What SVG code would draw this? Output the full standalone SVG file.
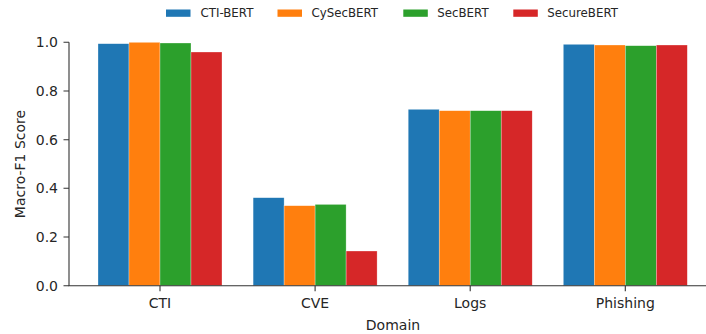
<svg xmlns="http://www.w3.org/2000/svg" width="706" height="334" viewBox="0 0 706 334">
<style>
text{font-family:"DejaVu Sans","Liberation Sans",sans-serif;fill:#262626}
.tick{font-size:14px}
.leg{font-size:11.8px}
.ax{stroke:#333;stroke-width:1.1;fill:none}
.bar{stroke:#fff;stroke-width:0.5;stroke-opacity:0.6}
.b{fill:#1f77b4}.o{fill:#ff7f0e}.g{fill:#2ca02c}.r{fill:#d62728}
</style>
<rect width="706" height="334" fill="#fff"/>
<g id="legend">
<rect class="b" x="166" y="9.5" width="24.5" height="7.3"/><text class="leg" x="200.5" y="17.4">CTI-BERT</text>
<rect class="o" x="277.5" y="9.5" width="24.5" height="7.3"/><text class="leg" x="311.5" y="17.4">CySecBERT</text>
<rect class="g" x="403.3" y="9.5" width="24.5" height="7.3"/><text class="leg" x="437.3" y="17.4">SecBERT</text>
<rect class="r" x="513.3" y="9.5" width="24.5" height="7.3"/><text class="leg" x="547.3" y="17.4">SecureBERT</text>
</g>
<g id="bars">
<g id="CTI">
<rect class="bar b" x="98" y="43.7" width="31" height="242"/>
<rect class="bar o" x="129" y="42.3" width="31" height="243.4"/>
<rect class="bar g" x="160" y="43" width="31" height="242.7"/>
<rect class="bar r" x="191" y="52" width="31" height="233.7"/>
</g>
<g id="CVE">
<rect class="bar b" x="253.1" y="197.7" width="31" height="88"/>
<rect class="bar o" x="284.1" y="205.7" width="31" height="80"/>
<rect class="bar g" x="315.1" y="204.4" width="31" height="81.3"/>
<rect class="bar r" x="346.1" y="251" width="31" height="34.7"/>
</g>
<g id="Logs">
<rect class="bar b" x="408.2" y="109.3" width="31" height="176.4"/>
<rect class="bar o" x="439.2" y="110.7" width="31" height="175"/>
<rect class="bar g" x="470.2" y="110.7" width="31" height="175"/>
<rect class="bar r" x="501.2" y="110.7" width="31" height="175"/>
</g>
<g id="Phishing">
<rect class="bar b" x="563.3" y="44.3" width="31" height="241.4"/>
<rect class="bar o" x="594.3" y="45" width="31" height="240.7"/>
<rect class="bar g" x="625.3" y="45.7" width="31" height="240"/>
<rect class="bar r" x="656.3" y="45" width="31" height="240.7"/>
</g>
</g>
<g id="axes">
<path class="ax" d="M69 42.3V285.7H706"/>
<path class="ax" d="M63.5 42.3H69M63.5 91H69M63.5 139.7H69M63.5 188.3H69M63.5 237H69M63.5 285.7H69"/>
<path class="ax" d="M160 285.7V291.2M315.1 285.7V291.2M470.2 285.7V291.2M625.3 285.7V291.2"/>
<g class="tick" text-anchor="end">
<text x="58" y="47.3">1.0</text>
<text x="58" y="96">0.8</text>
<text x="58" y="144.7">0.6</text>
<text x="58" y="193.3">0.4</text>
<text x="58" y="242">0.2</text>
<text x="58" y="290.7">0.0</text>
</g>
<g class="tick" text-anchor="middle">
<text x="160" y="308.3">CTI</text>
<text x="315.1" y="308.3">CVE</text>
<text x="470.2" y="308.3">Logs</text>
<text x="625.3" y="308.3">Phishing</text>
</g>
<text class="tick" x="393" y="329.5" text-anchor="middle">Domain</text>
<text class="tick" transform="translate(25,164) rotate(-90)" text-anchor="middle">Macro-F1 Score</text>
</g>
</svg>
